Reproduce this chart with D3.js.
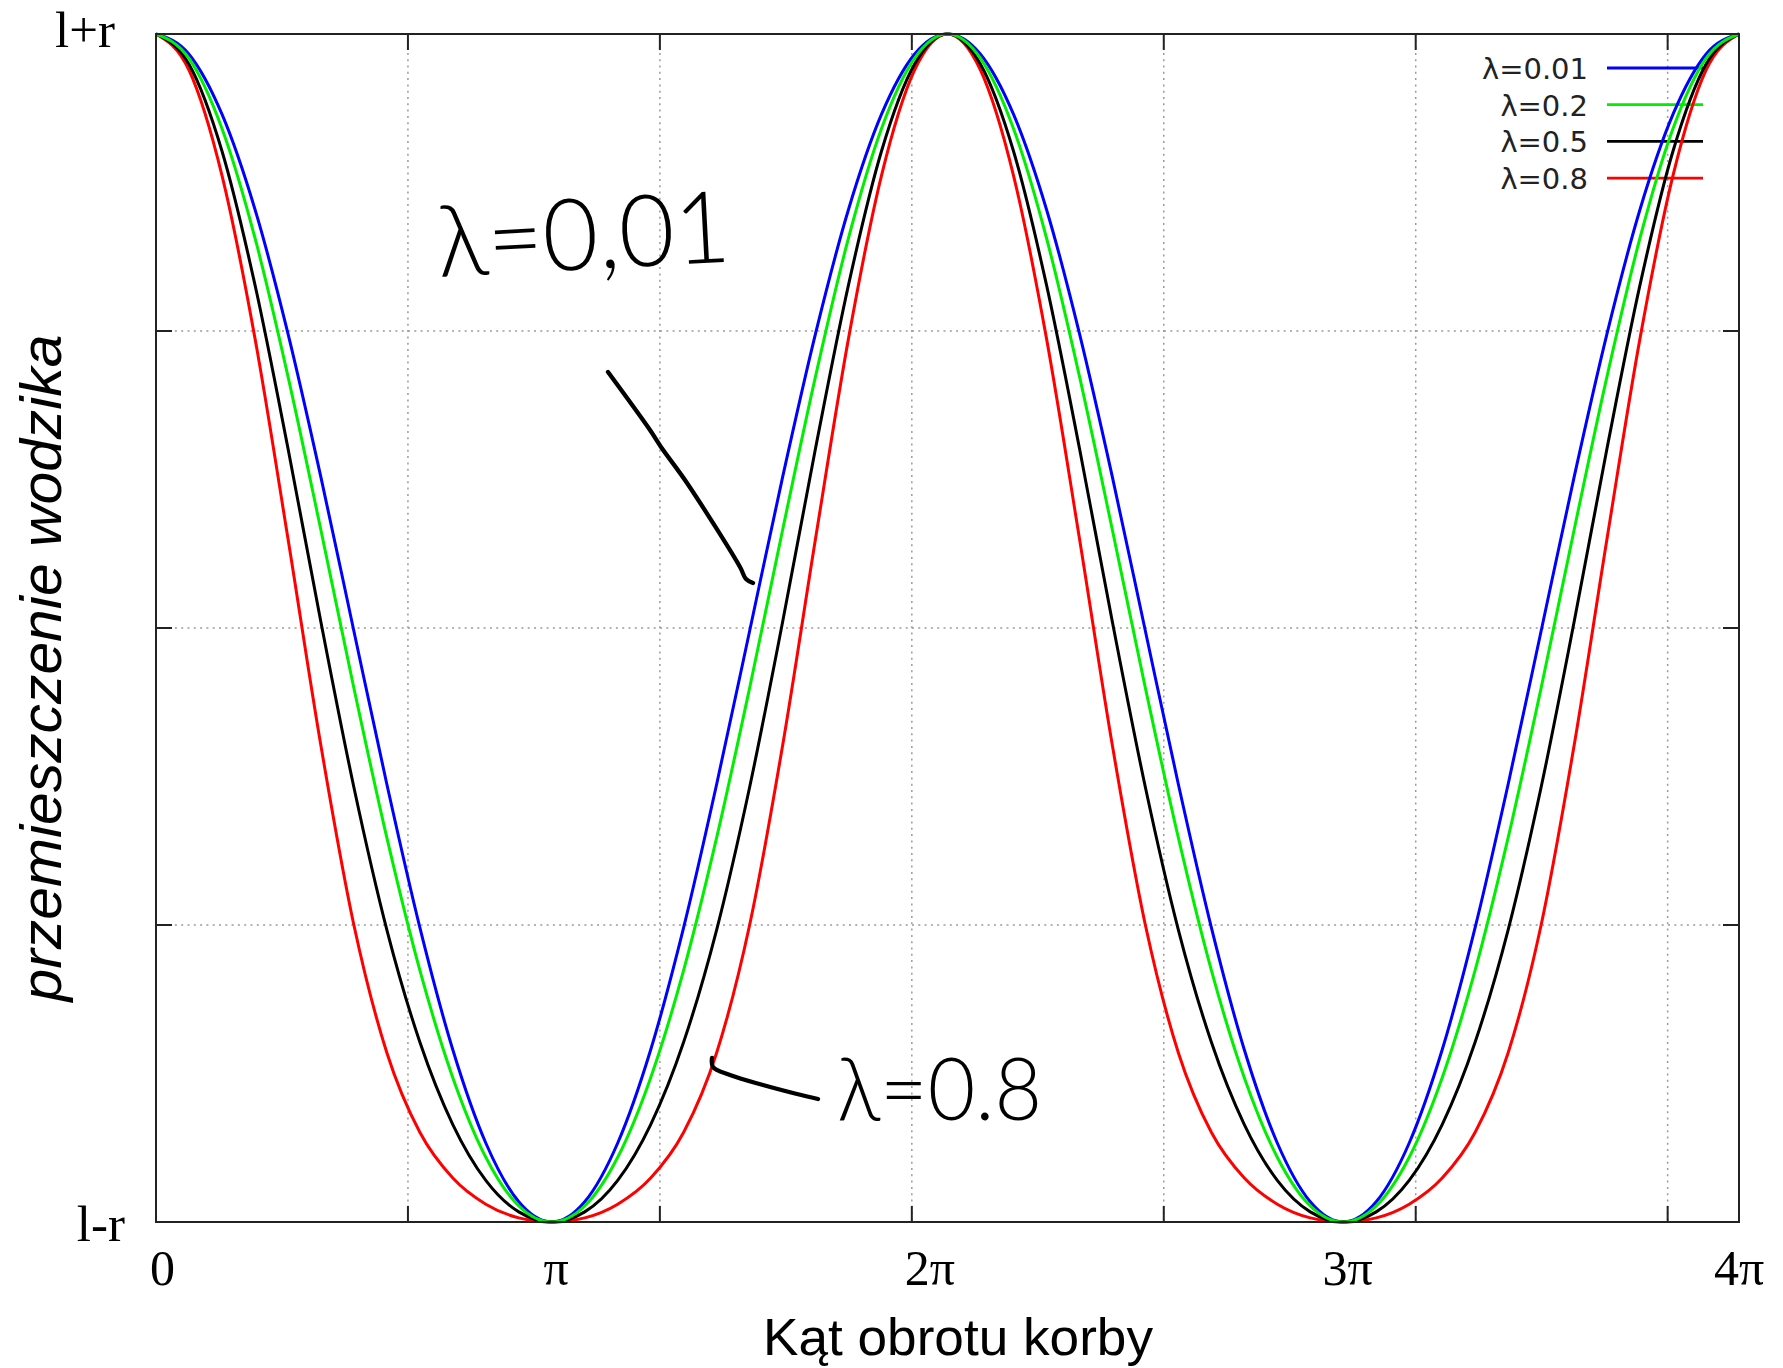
<!DOCTYPE html>
<html>
<head>
<meta charset="utf-8">
<script src="https://cdnjs.cloudflare.com/ajax/libs/d3/7.8.5/d3.min.js"></script>
<style>
  body { margin: 0; background: white; }
</style>
</head>
<body>
<div id="container"></div>
<script>
// crank angle in degrees (two full turns)
let angles = [0, 15, 30, 45, 60, 75, 90, 105, 120, 135, 150, 165, 180,
              195, 210, 225, 240, 255, 270, 285, 300, 315, 330, 345, 360,
              375, 390, 405, 420, 435, 450, 465, 480, 495, 510, 525, 540,
              555, 570, 585, 600, 615, 630, 645, 660, 675, 690, 705, 720];

// slider position, -1 = l-r, 1 = l+r
let lambda001 = [1.000, 0.966, 0.865, 0.705, 0.496, 0.254, -0.005, -0.263, -0.504, -0.710, -0.867, -0.966, -1.000,
                 -0.966, -0.867, -0.710, -0.504, -0.263, -0.005, 0.254, 0.496, 0.705, 0.865, 0.966, 1.000,
                 0.966, 0.865, 0.705, 0.496, 0.254, -0.005, -0.263, -0.504, -0.710, -0.867, -0.966, -1.000,
                 -0.966, -0.867, -0.710, -0.504, -0.263, -0.005, 0.254, 0.496, 0.705, 0.865, 0.966, 1.000];
let lambda02 = [1.000, 0.959, 0.841, 0.657, 0.424, 0.165, -0.101, -0.353, -0.576, -0.757, -0.891, -0.973, -1.000,
                -0.973, -0.891, -0.757, -0.576, -0.353, -0.101, 0.165, 0.424, 0.657, 0.841, 0.959, 1.000,
                0.959, 0.841, 0.657, 0.424, 0.165, -0.101, -0.353, -0.576, -0.757, -0.891, -0.973, -1.000,
                -0.973, -0.891, -0.757, -0.576, -0.353, -0.101, 0.165, 0.424, 0.657, 0.841, 0.959, 1.000];
let lambda05 = [1.000, 0.949, 0.803, 0.578, 0.303, 0.010, -0.268, -0.508, -0.697, -0.836, -0.930, -0.983, -1.000,
                -0.983, -0.930, -0.836, -0.697, -0.508, -0.268, 0.010, 0.303, 0.578, 0.803, 0.949, 1.000,
                0.949, 0.803, 0.578, 0.303, 0.010, -0.268, -0.508, -0.697, -0.836, -0.930, -0.983, -1.000,
                -0.983, -0.930, -0.836, -0.697, -0.508, -0.268, 0.010, 0.303, 0.578, 0.803, 0.949, 1.000];
let lambda08 = [1.000, 0.939, 0.762, 0.488, 0.151, -0.198, -0.500, -0.715, -0.849, -0.926, -0.970, -0.993, -1.000,
                -0.993, -0.970, -0.926, -0.849, -0.715, -0.500, -0.198, 0.151, 0.488, 0.762, 0.939, 1.000,
                0.939, 0.762, 0.488, 0.151, -0.198, -0.500, -0.715, -0.849, -0.926, -0.970, -0.993, -1.000,
                -0.993, -0.970, -0.926, -0.849, -0.715, -0.500, -0.198, 0.151, 0.488, 0.762, 0.939, 1.000];

let seriesNames = ["λ=0.01", "λ=0.2", "λ=0.5", "λ=0.8"];
let seriesColors = ["#0000ff", "#00ee00", "#000000", "#ff0000"];

// gnuplot grid sits at whole radians, labels were written in multiples of pi
let gridRadians = [2, 4, 6, 8, 10, 12];
let yGrid = [-0.5, 0, 0.5];
let xTickLabels = ["0", "π", "2π", "3π", "4π"];
let xTickAngles = [3, 182, 352, 542, 720];
let yTickLabels = ["l-r", "l+r"];
let yTickValues = [-1, 1];

let chartW = 1783;
let chartH = 1368;
let padLeft = 156, padRight = 1739, padTop = 34, padBottom = 1222;
let tickLen = 16;

let svg = d3.select("#container")
          .append("svg")
          .attr("width", chartW)
          .attr("height", chartH)
          .style("background-color", "white")
;

let xScale = d3.scaleLinear().domain([0, 720]).range([padLeft, padRight]);
let yScale = d3.scaleLinear().domain([-1, 1]).range([padBottom, padTop]);

let gridDeg = gridRadians.map(r => r * 180 / Math.PI);

// dotted grid
let grid = svg.append("g").attr("class", "grid")
          .attr("stroke", "#9a9a9a")
          .attr("stroke-width", 1.5)
          .attr("stroke-dasharray", "2,4.3");
grid.selectAll(".vgrid").data(gridDeg).enter().append("line")
    .attr("x1", d => xScale(d)).attr("x2", d => xScale(d))
    .attr("y1", padTop).attr("y2", padBottom);
grid.selectAll(".hgrid").data(yGrid).enter().append("line")
    .attr("x1", padLeft).attr("x2", padRight)
    .attr("y1", d => yScale(d)).attr("y2", d => yScale(d));

// ticks on all four sides, pointing in
let ticks = svg.append("g").attr("stroke", "#222").attr("stroke-width", 2);
gridDeg.forEach(d => {
  ticks.append("line").attr("x1", xScale(d)).attr("x2", xScale(d)).attr("y1", padBottom).attr("y2", padBottom - tickLen);
  ticks.append("line").attr("x1", xScale(d)).attr("x2", xScale(d)).attr("y1", padTop).attr("y2", padTop + tickLen);
});
yGrid.forEach(d => {
  ticks.append("line").attr("x1", padLeft).attr("x2", padLeft + tickLen).attr("y1", yScale(d)).attr("y2", yScale(d));
  ticks.append("line").attr("x1", padRight).attr("x2", padRight - tickLen).attr("y1", yScale(d)).attr("y2", yScale(d));
});

// legend
let legend = svg.append("g").attr("class", "legend");
seriesNames.forEach((name, i) => {
  let ly = 68 + i * 36.7;
  legend.append("text")
      .attr("x", 1588)
      .attr("y", ly + 11)
      .attr("text-anchor", "end")
      .attr("font-family", "DejaVu Sans, sans-serif")
      .attr("font-size", 29)
      .attr("fill", "#222")
      .text(name);
  legend.append("line")
      .attr("x1", 1607).attr("x2", 1703)
      .attr("y1", ly).attr("y2", ly)
      .attr("stroke", seriesColors[i])
      .attr("stroke-width", 2.8);
});

// curves
let allSeries = [lambda001, lambda08, lambda05, lambda02];
let allColors = [seriesColors[0], seriesColors[3], seriesColors[2], seriesColors[1]];
let line = d3.line()
      .x((d, i) => xScale(angles[i]))
      .y(d => yScale(d))
      .curve(d3.curveMonotoneX);
svg.append("g").attr("class", "curves")
    .selectAll("path").data(allSeries).enter().append("path")
    .attr("d", d => line(d))
    .attr("fill", "none")
    .attr("stroke", (d, i) => allColors[i])
    .attr("stroke-width", 3)
    .attr("stroke-linejoin", "round");

// frame
svg.append("rect")
    .attr("x", padLeft).attr("y", padTop)
    .attr("width", padRight - padLeft).attr("height", padBottom - padTop)
    .attr("fill", "none")
    .attr("stroke", "#222")
    .attr("stroke-width", 2);

// tick labels
svg.selectAll(".xlab").data(xTickLabels).enter().append("text")
    .attr("class", "xlab")
    .attr("x", (d, i) => xScale(xTickAngles[i]))
    .attr("y", 1285)
    .attr("text-anchor", "middle")
    .attr("font-family", "Liberation Serif, Times New Roman, serif")
    .attr("font-size", 50)
    .text(d => d);
svg.selectAll(".ylab").data(yTickLabels).enter().append("text")
    .attr("class", "ylab")
    .attr("x", (d, i) => i == 0 ? 125 : 115)
    .attr("y", (d, i) => yScale(yTickValues[i]) + (i == 0 ? 19 : 13))
    .attr("text-anchor", "end")
    .attr("font-family", "Liberation Serif, Times New Roman, serif")
    .attr("font-size", 51)
    .text(d => d);

// axis titles
svg.append("text")
    .attr("x", 958).attr("y", 1355)
    .attr("text-anchor", "middle")
    .attr("font-family", "Liberation Sans, Arial, sans-serif")
    .attr("font-size", 52)
    .attr("textLength", 390)
    .attr("lengthAdjust", "spacingAndGlyphs")
    .text("Kąt obrotu korby");
svg.append("text")
    .attr("transform", "translate(61,668) rotate(-90)")
    .attr("text-anchor", "middle")
    .attr("font-family", "Liberation Sans, Arial, sans-serif")
    .attr("font-style", "italic")
    .attr("font-size", 58)
    .attr("textLength", 667)
    .attr("lengthAdjust", "spacingAndGlyphs")
    .text("przemieszczenie wodzika");

// hand written notes
let pen = d3.line().curve(d3.curveCatmullRom);
let notes = svg.append("g").attr("class", "notes");
notes.append("path")
    .attr("d", pen([[608, 372], [650, 430], [661, 447], [687, 483], [740, 567], [746, 579], [753, 583]]))
    .attr("fill", "none").attr("stroke", "black").attr("stroke-width", 4.3)
    .attr("stroke-linecap", "round");
notes.append("path")
    .attr("d", pen([[712, 1058], [713, 1067], [730, 1075], [763, 1085], [797, 1094], [818, 1099]]))
    .attr("fill", "none").attr("stroke", "black").attr("stroke-width", 4.3)
    .attr("stroke-linecap", "round");
let handFont = "'DejaVu Sans ExtraLight', Lato, 'Open Sans', sans-serif";
notes.append("text")
    .attr("x", 439).attr("y", 277)
    .attr("transform", "rotate(-3,439,277)")
    .attr("font-family", handFont)
    .attr("font-weight", 300)
    .attr("font-size", 100)
    .attr("textLength", 293)
    .attr("lengthAdjust", "spacingAndGlyphs")
    .text("λ=0,01");
notes.append("text")
    .attr("x", 837).attr("y", 1120)
    .attr("font-family", handFont)
    .attr("font-weight", 300)
    .attr("font-size", 86)
    .attr("textLength", 205)
    .attr("lengthAdjust", "spacingAndGlyphs")
    .text("λ=0.8");
</script>
</body>
</html>
